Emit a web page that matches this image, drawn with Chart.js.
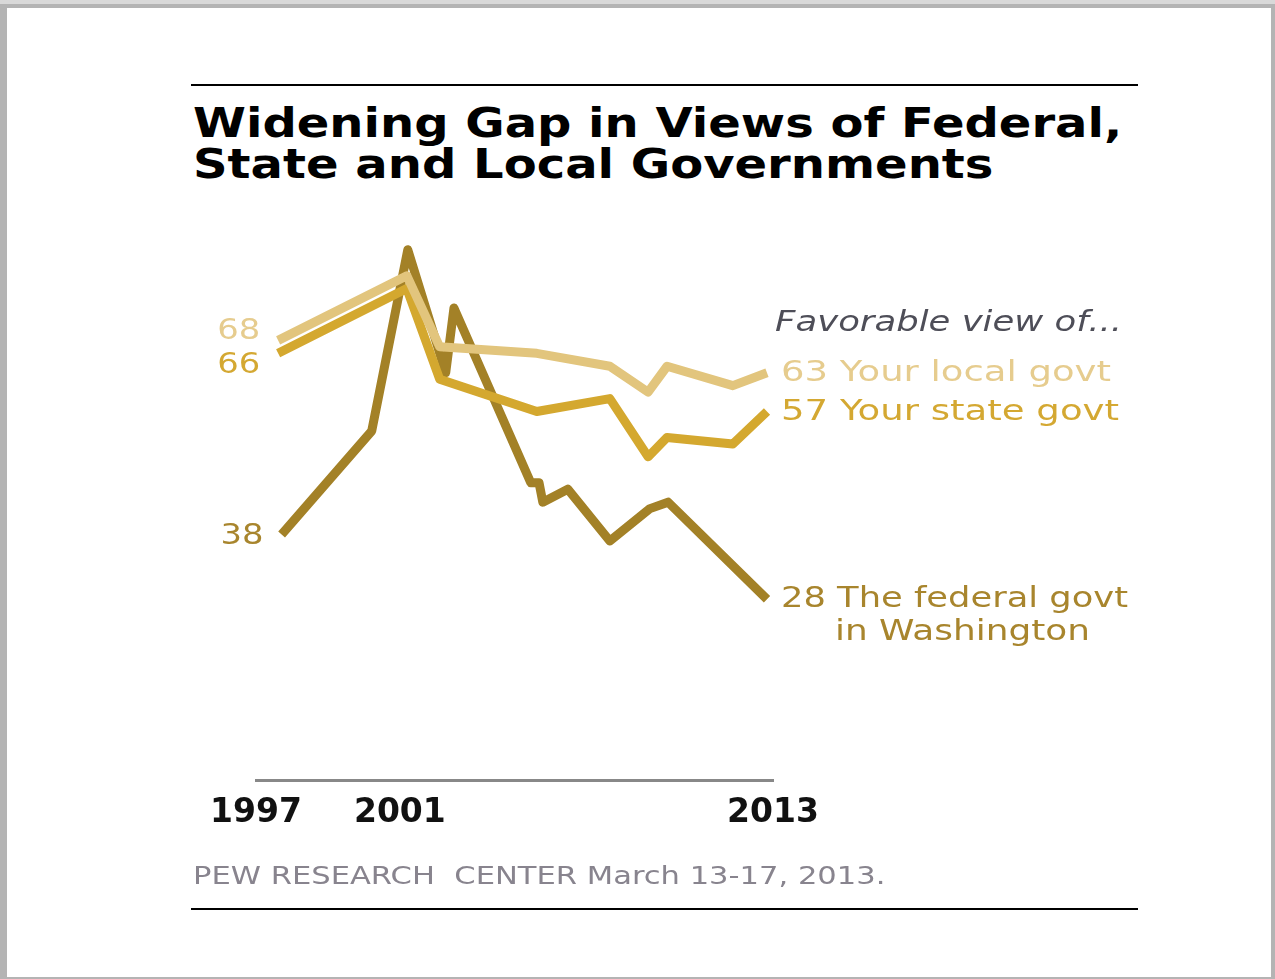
<!DOCTYPE html>
<html>
<head>
<meta charset="utf-8">
<script src="https://cdn.jsdelivr.net/npm/chart.js@4.4.0/dist/chart.umd.min.js"></script>
<style>
  html, body { margin: 0; padding: 0; }
  body {
    width: 1275px; height: 979px; position: relative; overflow: hidden;
    background: linear-gradient(to bottom, #d9d9d9 0, #d9d9d9 4px, #b4b4b4 4px);
  }
  #frame { position: absolute; left: 7px; top: 8px; width: 1264px; height: 969px; background: #fff; }
  .rule { position: absolute; left: 191px; width: 947px; height: 2px; background: #000; }
  .fit { position: absolute; white-space: pre; transform-origin: 0 0; display: inline-block; }
  .title { font-family: 'DejaVu Sans', sans-serif; font-weight: bold; font-size: 40px; line-height: 40px; color: #000; }
  #foot { font-family: 'DejaVu Sans', sans-serif; font-size: 25px; line-height: 25px; color: #88848e; }
  #chart { position: absolute; left: 0; top: 0; }
</style>
</head>
<body>
<div id="frame"></div>
<div class="rule" style="top:84px"></div>
<div class="fit title" id="t1" data-w="929" style="left:193px; top:103px">Widening Gap in Views of Federal,</div>
<div class="fit title" id="t2" data-w="800" style="left:193px; top:144px">State and Local Governments</div>
<canvas id="chart" width="1275" height="979"></canvas>
<div class="fit" id="foot" data-w="692" style="left:193px; top:863px">PEW RESEARCH  CENTER March 13-17, 2013.</div>
<div class="rule" style="top:908px"></div>

<script>
// survey dates (fractional years) and % favorable
const localYears = [1997.7, 2001.77, 2002.81, 2005.88, 2008.19, 2009.4, 2010.0, 2012.08, 2013.16];
const localValues = [68, 78, 67, 66, 64, 60, 64, 61, 63];
const stateValues = [66, 76, 62, 57, 59, 50, 53, 52, 57];
const federalYears = [1997.81, 2000.66, 2001.8, 2003.0, 2003.26, 2005.69, 2005.95, 2006.07, 2006.86, 2008.19, 2009.46, 2010.03, 2013.16];
const federalValues = [38, 54, 82, 63, 73, 46, 46, 43, 45, 37, 42, 43, 28];

const tickValues = [1997, 2001.55, 2013.35];
const tickLabels = ['1997', '2001', '2013'];
const seriesNames = [['Your local govt'], ['Your state govt'], ['The federal govt', 'in Washington']];

const toPoints = (xs, ys) => xs.map((x, i) => ({ x: x, y: ys[i] }));

// label styling: colour, start label y shift, label widths
const labelStyle = [
  { color: '#e6cc8e', dy0: -9, w0: 43, w: [330] },
  { color: '#d4a832', dy0: 12, w0: 43, w: [338] },
  { color: '#a8852d', dy0: 2, w0: 43, w: [347, 255] }
];

function fitText(ctx, text, x, y, w, align) {
  const m = ctx.measureText(text).width;
  ctx.save();
  ctx.translate(x, y);
  ctx.scale(w / m, 1);
  ctx.textAlign = align;
  ctx.fillText(text, 0, 0);
  ctx.restore();
}

const labelPlugin = {
  id: 'lineLabels',
  afterDatasetsDraw(chart) {
    const ctx = chart.ctx;
    ctx.save();
    ctx.textBaseline = 'middle';
    ctx.font = '28px "DejaVu Sans"';
    chart.data.datasets.forEach((ds, i) => {
      const pts = chart.getDatasetMeta(i).data;
      const first = pts[0], last = pts[pts.length - 1];
      const st = labelStyle[i];
      ctx.fillStyle = st.color;
      fitText(ctx, String(ds.data[0].y), first.x - 18, first.y + st.dy0, st.w0, 'right');
      const endVal = String(ds.data[ds.data.length - 1].y);
      const names = seriesNames[i];
      fitText(ctx, endVal + ' ' + names[0], last.x + 14, last.y + 1, st.w[0], 'left');
      if (names[1]) {
        fitText(ctx, names[1], last.x + 68, last.y + 34, st.w[1], 'left');
      }
    });
    // header of the label column
    const top = chart.getDatasetMeta(0).data;
    const p = top[top.length - 1];
    ctx.font = 'italic 28px "DejaVu Sans"';
    ctx.fillStyle = '#4e4e58';
    fitText(ctx, 'Favorable view of...', p.x + 8, p.y - 49, 347, 'left');
    ctx.restore();
  }
};

new Chart(document.getElementById('chart'), {
  type: 'line',
  data: {
    datasets: [
      { label: 'Your local govt', data: toPoints(localYears, localValues), borderColor: '#e2c57d' },
      { label: 'Your state govt', data: toPoints(localYears, stateValues), borderColor: '#d4a82f' },
      { label: 'The federal govt in Washington', data: toPoints(federalYears, federalValues), borderColor: '#a38127' }
    ]
  },
  options: {
    responsive: false,
    devicePixelRatio: 1,
    animation: false,
    events: [],
    datasets: {
      line: { borderWidth: 9, pointRadius: 0, tension: 0, borderJoinStyle: 'round', borderCapStyle: 'butt', fill: false }
    },
    layout: { padding: { left: 256, right: 502, top: 198, bottom: 141 } },
    plugins: { legend: { display: false }, tooltip: { enabled: false } },
    scales: {
      x: {
        type: 'linear',
        min: 1997,
        max: 2013.35,
        grid: { display: false },
        border: { display: true, color: '#888888', width: 3 },
        afterBuildTicks: (scale) => { scale.ticks = tickValues.map(v => ({ value: v })); },
        ticks: {
          autoSkip: false,
          maxRotation: 0,
          padding: 5,
          color: '#111111',
          font: { family: 'DejaVu Sans', size: 33, weight: 'bold', lineHeight: 1.2 },
          callback: (v, i) => tickLabels[i]
        }
      },
      y: { display: false, min: 0, max: 90 }
    }
  },
  plugins: [labelPlugin]
});

document.querySelectorAll('.fit').forEach(el => {
  const w = +el.dataset.w;
  el.style.transform = 'scaleX(' + (w / el.offsetWidth) + ')';
});
</script>
</body>
</html>
